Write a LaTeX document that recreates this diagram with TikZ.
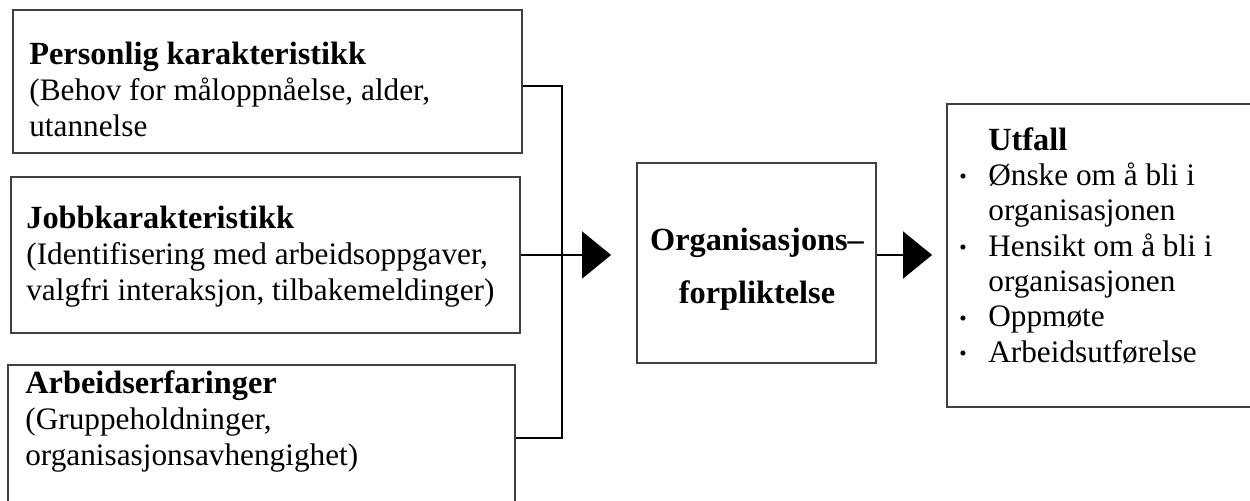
\documentclass[tikz,border=0pt]{standalone}
\usepackage{fontspec}
\setmainfont{Liberation Serif}
\usetikzlibrary{arrows.meta}
\newcommand{\bul}{\raisebox{0.85pt}{\fontsize{12}{12}\selectfont\textbullet}}
\newcommand{\tittel}[1]{{\fontsize{18.4}{20.4}\selectfont\bfseries #1}}

\begin{document}
\begin{tikzpicture}[x=0.02cm, y=-0.02cm,
    box/.style={draw=black!75, line width=1.1pt, inner sep=0pt},
    txt/.style={inner sep=0pt, align=left, anchor=base west, font=\fontsize{17.8}{20.4}\selectfont},
    wire/.style={line width=0.85pt},
    arr/.style={wire, -{Triangle[length=0.58cm, width=0.94cm]}}
]
\useasboundingbox (0,0) rectangle (1250,500);

\node[box, minimum width=10.18cm, minimum height=2.86cm] (pers) at (267.5,81.5) {};
\node[box, minimum width=10.18cm, minimum height=3.12cm] (jobb) at (265.5,255) {};
\node[box, minimum width=10.14cm, minimum height=3cm] (erf) at (261.5,440) {};
\node[box, minimum width=4.78cm, minimum height=4cm] (org) at (756.5,263) {};
\node[box, minimum width=6.18cm, minimum height=6.06cm] (utfall) at (1101.5,255.5) {};

\node[txt] (perstxt) at (29,136) {\tittel{Personlig karakteristikk}\\(Behov for måloppnåelse, alder,\\utannelse};
\node[txt] (jobbtxt) at (26,300) {\tittel{Jobbkarakteristikk}\\(Identifisering med arbeidsoppgaver,\\valgfri interaksjon, tilbakemeldinger)};
\node[txt] (erftxt) at (25,465) {\tittel{Arbeidserfaringer}\\(Gruppeholdninger,\\organisasjonsavhengighet)};
\node[inner sep=0pt, align=center, anchor=base, font=\fontsize{18.4}{20.4}\selectfont\bfseries] (orgtxt) at (757,303) {Organisasjons\textendash\\[9.6pt]forpliktelse};
\node[txt, font=\fontsize{17.8}{20.1}\selectfont] (utfalltxt) at (988,362) {\tittel{Utfall}\\
  \llap{\bul\hspace{0.43cm}}Ønske om å bli i\\organisasjonen\\
  \llap{\bul\hspace{0.43cm}}Hensikt om å bli i\\organisasjonen\\
  \llap{\bul\hspace{0.43cm}}Oppmøte\\
  \llap{\bul\hspace{0.43cm}}Arbeidsutførelse};

\coordinate (knot1) at (562,86);
\coordinate (knot2) at (562,438);
\draw[wire] (pers.east |- knot1) -- (knot1) -- (knot2) -- (erf.east |- knot2);
\draw[arr, shorten >=0.5cm] (jobb.east) -- (jobb.east -| org.west);
\draw[arr, shorten >=0.28cm] (org.east |- jobb.east) -- (utfall.west |- jobb.east);
\end{tikzpicture}
\end{document}
